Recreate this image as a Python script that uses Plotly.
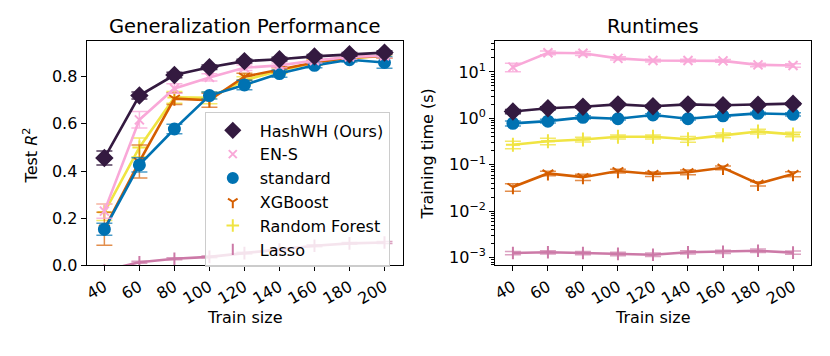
import plotly.graph_objects as go

train_size = [40, 60, 80, 100, 120, 140, 160, 180, 200]

# Test R^2 (left panel)
hash_r2 = [0.455, 0.72, 0.807, 0.84, 0.866, 0.874, 0.886, 0.895, 0.902]
hash_r2_err = [0.03, 0.015, 0.012, 0.01, 0.008, 0.008, 0.008, 0.008, 0.008]
ens_r2 = [0.23, 0.617, 0.75, 0.797, 0.838, 0.848, 0.868, 0.884, 0.889]
ens_r2_err = [0.03, 0.035, 0.02, 0.015, 0.012, 0.01, 0.01, 0.01, 0.01]
std_r2 = [0.153, 0.426, 0.578, 0.72, 0.765, 0.813, 0.848, 0.872, 0.86]
std_r2_err = [0.025, 0.03, 0.02, 0.015, 0.02, 0.015, 0.01, 0.01, 0.024]
xgb_r2 = [0.155, 0.44, 0.707, 0.70, 0.80, 0.83, 0.86, 0.88, 0.888]
xgb_r2_err = [0.07, 0.07, 0.025, 0.03, 0.015, 0.012, 0.01, 0.01, 0.01]
rf_r2 = [0.225, 0.50, 0.712, 0.71, 0.785, 0.825, 0.86, 0.878, 0.888]
rf_r2_err = [0.035, 0.04, 0.025, 0.025, 0.015, 0.012, 0.01, 0.01, 0.01]
lasso_r2 = [-0.022, 0.013, 0.028, 0.036, 0.052, 0.067, 0.083, 0.093, 0.097]
lasso_r2_err = [0.004, 0.004, 0.004, 0.004, 0.004, 0.004, 0.004, 0.004, 0.004]

# Training time in seconds (right panel)
hash_t = [1.4, 1.65, 1.77, 2.0, 1.82, 2.0, 1.92, 1.97, 2.07]
hash_t_err = [0.15, 0.12, 0.1, 0.1, 0.1, 0.1, 0.1, 0.1, 0.1]
ens_t = [12.7, 25.8, 25.2, 19.6, 17.6, 17.6, 17.3, 14.2, 13.8]
ens_t_err = [2.6, 2.5, 2.5, 1.5, 1.2, 1.2, 1.2, 1.2, 1.2]
std_t = [0.78, 0.87, 1.05, 0.98, 1.18, 0.98, 1.13, 1.28, 1.22]
std_t_err = [0.1, 0.08, 0.08, 0.06, 0.08, 0.06, 0.06, 0.08, 0.1]
xgb_t = [0.033, 0.065, 0.054, 0.073, 0.063, 0.069, 0.086, 0.039, 0.063]
xgb_t_err = [0.006, 0.007, 0.008, 0.007, 0.007, 0.008, 0.008, 0.004, 0.008]
rf_t = [0.27, 0.32, 0.35, 0.40, 0.40, 0.355, 0.43, 0.52, 0.45]
rf_t_err = [0.05, 0.05, 0.04, 0.04, 0.04, 0.05, 0.05, 0.06, 0.05]
lasso_t = [0.00125, 0.0013, 0.00125, 0.0012, 0.00115, 0.0013, 0.00133, 0.0014, 0.00128]
lasso_t_err = [0.0001, 0.0001, 0.0001, 0.0001, 0.0001, 0.0001, 0.0001, 0.00012, 0.0001]

time_ticks = [0.001, 0.01, 0.1, 1, 10]
time_tick_text = ["10<sup>−3</sup>", "10<sup>−2</sup>", "10<sup>−1</sup>", "10<sup>0</sup>", "10<sup>1</sup>"]
# minor ticks at 2..9 within each decade
time_minor = [m * d for d in [0.0001, 0.001, 0.01, 0.1, 1, 10] for m in range(2, 10)]

methods = [
    # name, color, errcolor, symbol, size, r2, r2err, t, terr
    ("HashWH (Ours)", "#341a40", "rgba(52,26,64,0.85)", "diamond", 12, hash_r2, hash_r2_err, hash_t, hash_t_err),
    ("EN-S", "#f9a8d8", "rgba(249,168,216,0.8)", "x-thin", 9, ens_r2, ens_r2_err, ens_t, ens_t_err),
    ("standard", "#0072b2", "rgba(0,114,178,0.7)", "circle", 11, std_r2, std_r2_err, std_t, std_t_err),
    ("XGBoost", "#d55e00", "rgba(213,94,0,0.7)", "y-down", 9, xgb_r2, xgb_r2_err, xgb_t, xgb_t_err),
    ("Random Forest", "#f0e442", "rgba(240,228,66,0.8)", "cross-thin", 10, rf_r2, rf_r2_err, rf_t, rf_t_err),
    ("Lasso", "#cc79a7", "rgba(204,121,167,0.7)", "line-ns", 9, lasso_r2, lasso_r2_err, lasso_t, lasso_t_err),
]

FONT = "DejaVu Sans"
fig = go.Figure()

# draw in reverse so HashWH sits on top
for name, color, ecol, sym, size, r2, r2e, t, te in reversed(methods):
    marker = dict(symbol=sym, size=size, color=color, line=dict(color=color, width=2))
    for xa, ya, yv, ye in (("x", "y", r2, r2e), ("x2", "y2", t, te)):
        fig.add_trace(go.Scatter(
            x=train_size, y=yv, mode="lines+markers", name=name,
            line=dict(color=color, width=2.6), marker=marker,
            error_y=dict(type="data", array=ye, color=ecol, thickness=1.5, width=8),
            xaxis=xa, yaxis=ya, showlegend=False, cliponaxis=True,
        ))

# legend entries show markers only
for name, color, ecol, sym, size, *_ in methods:
    fig.add_trace(go.Scatter(
        x=[None], y=[None], mode="markers", name=name,
        marker=dict(symbol=sym, size=size - 1, color=color, line=dict(color=color, width=2)),
        xaxis="x", yaxis="y",
    ))

axis_common = dict(
    showline=True, mirror=True, linecolor="black", linewidth=1.2,
    ticks="outside", ticklen=5, tickwidth=1.2, tickcolor="black",
    showgrid=False, zeroline=False,
    tickfont=dict(family=FONT, size=16, color="black"),
)

fig.update_layout(
    width=830, height=356,
    margin=dict(l=0, r=0, t=0, b=0),
    plot_bgcolor="white", paper_bgcolor="white",
    font=dict(family=FONT, size=16, color="black"),
    xaxis=dict(domain=[0.1012, 0.4831], range=[29.9, 210.3], tickvals=train_size,
               tickangle=-30, anchor="y", **axis_common),
    yaxis=dict(domain=[0.2331, 0.882], range=[0, 0.952], tickvals=[0, 0.2, 0.4, 0.6, 0.8],
               tickformat=".1f", anchor="x", **axis_common),
    xaxis2=dict(domain=[0.5952, 0.9771], range=[29.9, 210.3], tickvals=train_size,
                tickangle=-30, anchor="y2", **axis_common),
    yaxis2=dict(domain=[0.2331, 0.882], type="log", range=[-3.168, 1.67],
                tickvals=time_ticks, ticktext=time_tick_text, anchor="x2",
                minor=dict(tickmode="array", tickvals=time_minor, ticks="outside",
                           ticklen=3, tickcolor="black", tickwidth=1),
                **axis_common),
    legend=dict(
        x=0.244, y=0.675, xanchor="left", yanchor="top", itemwidth=44,
        bgcolor="rgba(255,255,255,0.8)", bordercolor="#cccccc", borderwidth=1,
        font=dict(family=FONT, size=16, color="black"),
    ),
    annotations=[
        dict(text="Generalization Performance", x=0.2922, y=(356 - 27) / 356, xref="paper", yref="paper",
             showarrow=False, font=dict(size=19.5), xanchor="center", yanchor="middle"),
        dict(text="Runtimes", x=0.7862, y=(356 - 27) / 356, xref="paper", yref="paper",
             showarrow=False, font=dict(size=19.5), xanchor="center", yanchor="middle"),
        dict(text="Train size", x=0.2922, y=(356 - 327) / 356, xref="paper", yref="paper",
             showarrow=False, xanchor="center", yanchor="middle"),
        dict(text="Train size", x=0.7862, y=(356 - 327) / 356, xref="paper", yref="paper",
             showarrow=False, xanchor="center", yanchor="middle"),
        dict(text="Test <i>R</i><sup>2</sup>", x=28 / 830, y=(356 - 160) / 356, xref="paper", yref="paper",
             showarrow=False, textangle=-90, xanchor="center", yanchor="middle"),
        dict(text="Training time (s)", x=426 / 830, y=(356 - 158.5) / 356, xref="paper", yref="paper",
             showarrow=False, textangle=-90, xanchor="center", yanchor="middle"),
    ],
)

# drop the default page margin so the 830x356 figure fills the window exactly
fig.write_html("out.html", config={"displayModeBar": False},
               post_script="document.body.style.margin='0';")
